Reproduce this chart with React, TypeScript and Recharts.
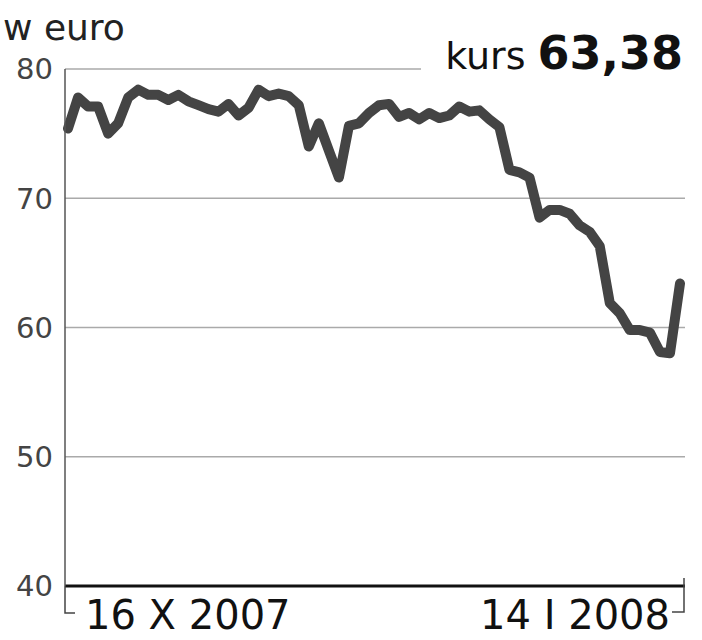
import React from "react";
import { LineChart, Line, XAxis, YAxis, CartesianGrid } from "recharts";

const dateLabels = ["16 X 2007", "14 I 2008"];
const prices = [
  75.4, 77.8, 77.1, 77.1, 75.0, 75.8, 77.8, 78.4, 78.0, 78.0,
  77.6, 78.0, 77.5, 77.2, 76.9, 76.7, 77.3, 76.4, 77.0, 78.4,
  77.9, 78.1, 77.9, 77.2, 74.0, 75.8, 73.7, 71.6, 75.6, 75.8,
  76.6, 77.2, 77.3, 76.3, 76.6, 76.1, 76.6, 76.2, 76.4, 77.1,
  76.7, 76.8, 76.1, 75.5, 72.2, 72.0, 71.6, 68.5, 69.1, 69.1,
  68.8, 67.9, 67.4, 66.3, 61.9, 61.1, 59.8, 59.8, 59.6, 58.1,
  58.0, 63.4,
];
const yTicks = [40, 50, 60, 70, 80];
const unitLabel = "w euro";
const kursLabel = "kurs";
const kursValue = "63,38";

const data = prices.map((v, i) => ({ i, v }));
const xTicks = [0, prices.length - 1];

const FONT = "'DejaVu Sans', sans-serif";

const YTick = (props: any) => {
  const { x, y, payload } = props;
  return (
    <text x={x} y={y} dy="0.36em" textAnchor="end" fontFamily={FONT} fontSize={29} fill="#444">
      {payload.value}
    </text>
  );
};

const XTick = (props: any) => {
  const { x, y, index } = props;
  if (index === 0) {
    return (
      <g>
        <path d={`M${x - 3},${y} V${y + 27} H${x + 7}`} stroke="#444" strokeWidth={1.5} fill="none" />
        <text x={x + 17} y={y + 43} textAnchor="start" fontFamily={FONT} fontSize={40} fill="#111">
          {dateLabels[0]}
        </text>
      </g>
    );
  }
  return (
    <g>
      <path d={`M${x + 4},${y - 8} V${y + 26} H${x - 8}`} stroke="#444" strokeWidth={1.5} fill="none" />
      <text x={x - 10} y={y + 43} textAnchor="end" fontFamily={FONT} fontSize={40} fill="#111">
        {dateLabels[1]}
      </text>
    </g>
  );
};

export default function App() {
  return (
    <div style={{ position: "absolute", left: 0, top: 0, width: 702, height: 640, background: "#fff" }}>
      <LineChart width={702} height={640} data={data} margin={{ top: 69, right: 17, bottom: 0, left: 0 }}>
        <CartesianGrid horizontal vertical={false} stroke="#aaa" strokeWidth={1.5} />
        <XAxis
          dataKey="i"
          type="number"
          domain={[0, prices.length - 1]}
          ticks={xTicks}
          padding={{ left: 3, right: 5 }}
          height={54}
          axisLine={{ stroke: "#111", strokeWidth: 3 }}
          tickLine={false}
          tickSize={0}
          tickMargin={0}
          tick={<XTick />}
          interval={0}
        />
        <YAxis
          domain={[40, 80]}
          ticks={yTicks}
          width={65}
          axisLine={{ stroke: "#555", strokeWidth: 1.5 }}
          tickLine={false}
          tickSize={0}
          tickMargin={12}
          tick={<YTick />}
          interval={0}
        />
        <Line
          type="linear"
          dataKey="v"
          stroke="#444"
          strokeWidth={10}
          dot={false}
          strokeLinejoin="round"
          strokeLinecap="round"
          isAnimationActive={false}
        />
      </LineChart>
      <svg width={702} height={640} style={{ position: "absolute", left: 0, top: 0, pointerEvents: "none" }}>
        <rect x={421} y={60} width={281} height={20} fill="#fff" />
        <text x={3} y={40} fontFamily={FONT} fontSize={36} fill="#222">
          {unitLabel}
        </text>
        <text x={683} y={69} textAnchor="end" fontFamily={FONT} fill="#111">
          <tspan fontSize={38}>{kursLabel}</tspan>
          <tspan dx={12} fontSize={46} fontWeight="bold">{kursValue}</tspan>
        </text>
      </svg>
    </div>
  );
}
